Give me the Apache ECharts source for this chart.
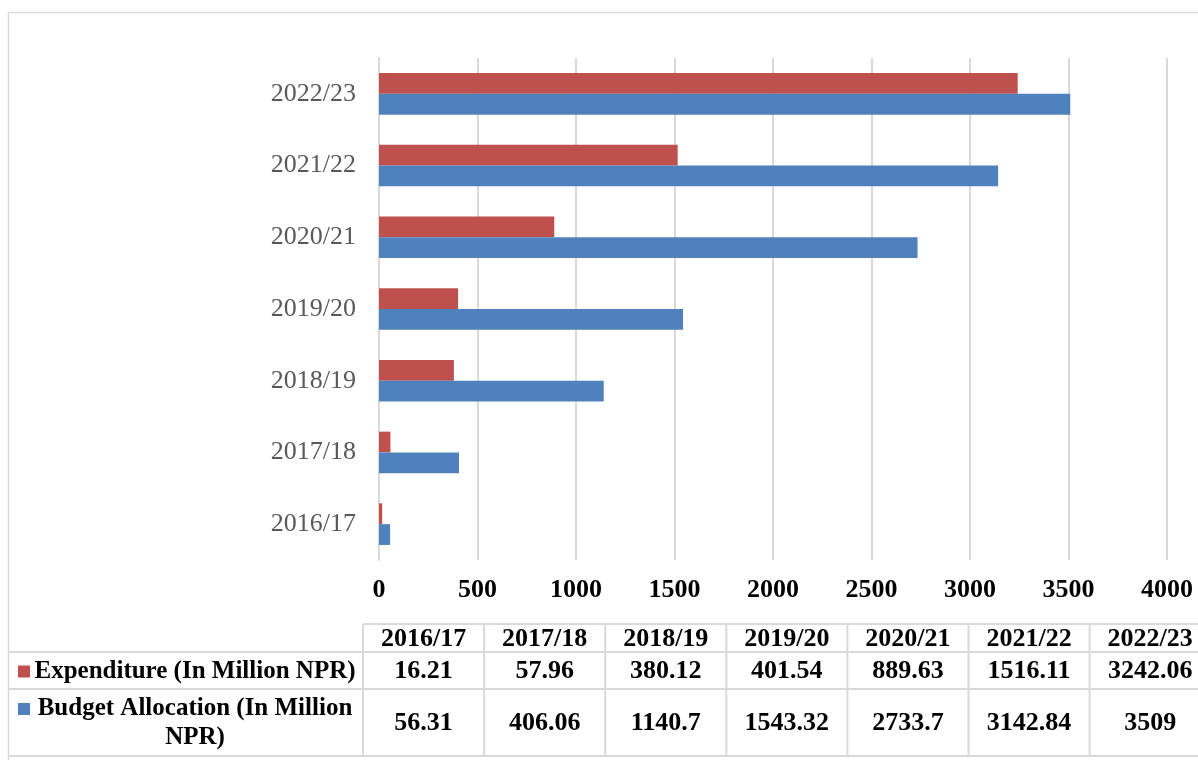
<!DOCTYPE html>
<html>
<head>
<meta charset="utf-8">
<script src="https://cdn.jsdelivr.net/npm/echarts@6/dist/echarts.min.js"></script>
<style>
html,body{margin:0;padding:0;background:#fff;}
#chart{width:1198px;height:760px;}
</style>
</head>
<body>
<div id="chart"></div>
<script>
// ---- data ----
const categories = ['2016/17','2017/18','2018/19','2019/20','2020/21','2021/22','2022/23'];
const expenditure = [16.21, 57.96, 380.12, 401.54, 889.63, 1516.11, 3242.06];
const budget = [56.31, 406.06, 1140.7, 1543.32, 2733.7, 3142.84, 3509];
const seriesNames = ['Expenditure (In Million NPR)', 'Budget Allocation (In Million NPR)'];
const tableLabels = ['Expenditure (In Million NPR)', 'Budget Allocation (In Million\nNPR)'];

// ---- styles ----
const RED = '#c0504d', BLUE = '#4f81bd', GRID = '#d9d9d9';
const FONT = '"Liberation Serif", "DejaVu Serif", serif';

const chart = echarts.init(document.getElementById('chart'), null, {renderer: 'canvas'});

// ---- table graphics ----
const colX0 = 363, colW = 121.1, labelX0 = 9;
const yHeadTop = 624, yRow1 = 652, yRow2 = 689, yBottom = 756;
const graphics = [];
graphics.push({type:'rect', shape:{x:8.5, y:12.5, width:1300, height:900}, style:{fill:null, stroke:GRID, lineWidth:1.5}, silent:true});
function hline(x1,x2,y){graphics.push({type:'line', shape:{x1:x1,y1:y,x2:x2,y2:y}, style:{stroke:GRID, lineWidth:2}, silent:true});}
function vline(x,y1,y2){graphics.push({type:'line', shape:{x1:x,y1:y1,x2:x,y2:y2}, style:{stroke:GRID, lineWidth:2}, silent:true});}
const tableRight = 1300;
hline(colX0, tableRight, yHeadTop);
hline(labelX0, tableRight, yRow1);
hline(labelX0, tableRight, yRow2);
hline(labelX0, tableRight, yBottom);
for (let i = 0; i <= categories.length; i++) {
  vline(colX0 + i*colW, yHeadTop, yBottom);
}
const rows = [
  {vals: expenditure, color: RED, top: yRow1, bot: yRow2},
  {vals: budget, color: BLUE, top: yRow2, bot: yBottom}
];
const NUMFONT = 'bold 26px ' + FONT;
const LABFONT = 'bold 25px ' + FONT;
categories.forEach((c, i) => {
  graphics.push({type:'text', silent:true, style:{text:c, x: colX0 + (i+0.5)*colW, y:(yHeadTop+yRow1)/2+1, textAlign:'center', textVerticalAlign:'middle', font:NUMFONT, fill:'#000'}});
});
rows.forEach((r, ri) => {
  const cy = (r.top + r.bot)/2 + 1;
  r.vals.forEach((v, i) => {
    graphics.push({type:'text', silent:true, style:{text:String(v), x: colX0 + (i+0.5)*colW, y: cy, textAlign:'center', textVerticalAlign:'middle', font:NUMFONT, fill:'#000'}});
  });
  const lines = tableLabels[ri].split('\n');
  const lh = 29;
  const firstY = cy - (lines.length-1)*lh/2;
  lines.forEach((ln, li) => {
    graphics.push({type:'text', silent:true, style:{text:ln, x:195, y:firstY + li*lh, textAlign:'center', textVerticalAlign:'middle', font:LABFONT, fill:'#000'}});
  });
  graphics.push({type:'rect', silent:true, shape:{x:18, y:firstY-6, width:12, height:12}, style:{fill:r.color}});
});

const option = {
  animation: false,
  backgroundColor: '#fff',
  grid: {left: 379, top: 58, width: 788, height: 502, containLabel: false},
  xAxis: {
    type: 'value', min: 0, max: 4000, interval: 500,
    axisLine: {show: false}, axisTick: {show: false},
    splitLine: {show: true, lineStyle: {color: GRID, width: 2}},
    axisLabel: {margin: 17, color: '#000', fontFamily: FONT, fontWeight: 'bold', fontSize: 26, lineHeight: 26,
      formatter: v => String(v)}
  },
  yAxis: {
    type: 'category', data: categories,
    axisLine: {show: true, lineStyle: {color: GRID, width: 2}},
    axisTick: {show: false},
    axisLabel: {margin: 23, color: '#595959', fontFamily: FONT, fontSize: 26}
  },
  series: [
    {name: seriesNames[0], type: 'bar', data: expenditure, itemStyle: {color: RED}, barGap: '0%', barCategoryGap: '42%'},
    {name: seriesNames[1], type: 'bar', data: budget, itemStyle: {color: BLUE}, barGap: '0%', barCategoryGap: '42%'}
  ],
  graphic: graphics
};
chart.setOption(option);
</script>
</body>
</html>
